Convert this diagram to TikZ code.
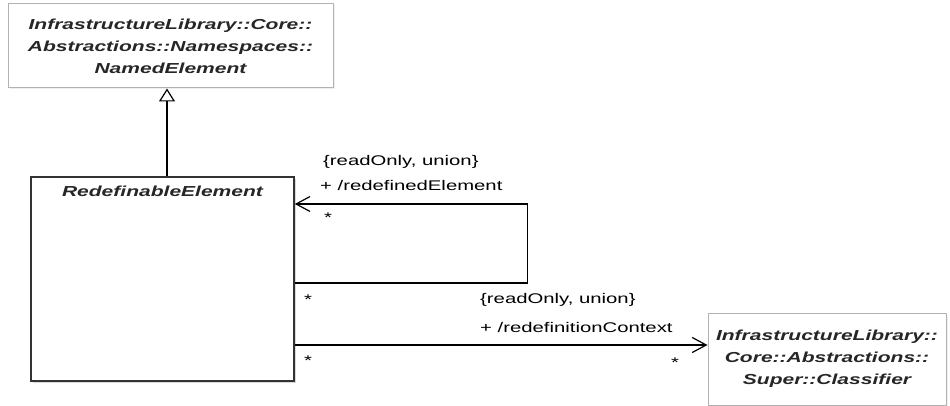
\documentclass[tikz,border=0pt]{standalone}
\usepackage{fontspec}
\setmainfont{Liberation Sans}
\newfontfamily\umlfont[FakeStretch=1.45]{Liberation Sans}
\usetikzlibrary{arrows.meta,positioning,shadows,calc}
\tikzset{
  uclass/.style={rectangle, draw=black!30, fill=white, line width=1pt,
                 drop shadow={shadow xshift=1.5pt, shadow yshift=-1.5pt, fill=black!12}},
  ukey/.style={rectangle, draw=black!80, fill=white, line width=1.6pt, inner sep=0pt,
               drop shadow={shadow xshift=2pt, shadow yshift=-2pt, fill=black!30}},
  uname/.style={font=\umlfont\fontsize{14.5}{22}\selectfont\bfseries\itshape,
                text=black!85, align=center},
  ulbl/.style={font=\umlfont\fontsize{14}{17}\selectfont, inner sep=0pt, anchor=west},
  umult/.style={font=\umlfont\fontsize{14}{17}\selectfont, inner sep=0pt, anchor=north},
  uassoc/.style={draw=black, line width=1.2pt, -{Straight Barb[length=14pt,width=15pt]}},
  ugen/.style={draw=black, line width=1.2pt, -{Triangle[open,length=13pt,width=16pt,fill=white]}},
}
\begin{document}
\begin{tikzpicture}[x=1pt,y=-1pt]
  \useasboundingbox (0,0) rectangle (950,406);

  % classes
  \node[uclass, uname, minimum width=325pt, minimum height=84pt] (named) at (170.5,46)
       {InfrastructureLibrary::Core::\\Abstractions::Namespaces::\\NamedElement};
  \node[ukey, minimum width=263pt, minimum height=204pt] (redef) at (162.5,279) {};
  \node[uname, below=6pt of redef.north] (redefname) {RedefinableElement};
  \node[uclass, uname, minimum width=238pt, minimum height=92pt] (classif) at (827,359)
       {InfrastructureLibrary::\\Core::Abstractions::\\Super::Classifier};

  % generalization
  \draw[ugen] ($(redef.north)+(4.5,0)$) -- ($(redef.north |- named.south)+(4.5,0)$);

  % redefinedElement (self)
  \draw[uassoc] ($(redef.east)+(0,4)$) -- ++(233,0) -- ++(0,-79) -- ($(redef.east)+(0,-75)$);
  \node[ulbl] (selfprop) at (323,162) {\{readOnly, union\}};
  \node[ulbl] (selfname) at (320,185) {+ /redefinedElement};
  \node[umult] (selfmult) at (328,213) {*};
  \node[umult] (loopmult) at (308,295) {*};

  % redefinitionContext
  \draw[uassoc] ($(redef.east)+(0,66)$) -- ($(classif.west)+(0,-14)$);
  \node[ulbl] (ctxprop) at (480,300) {\{readOnly, union\}};
  \node[ulbl] (ctxname) at (480,327) {+ /redefinitionContext};
  \node[umult] (srcmult) at (308,356) {*};
  \node[umult] (dstmult) at (675,358) {*};

\end{tikzpicture}
\end{document}
